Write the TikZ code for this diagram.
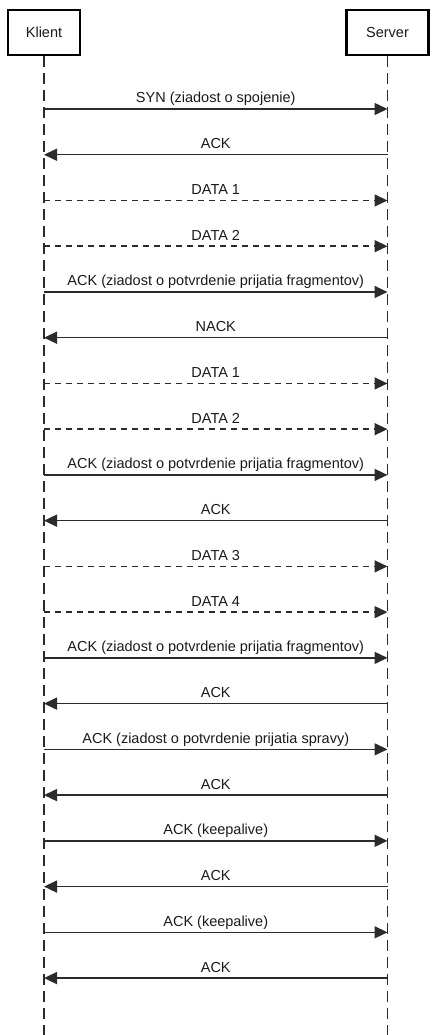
\documentclass[tikz,border=0pt]{standalone}
\usepackage{fontspec}
\setmainfont{Liberation Sans}
\usetikzlibrary{arrows.meta}
\definecolor{ln}{HTML}{2b2b2b}
\definecolor{tx}{HTML}{1a1a1a}
\begin{document}
\begin{tikzpicture}[x=1pt,y=-1pt,
  actor/.style={draw=black, line width=2.7pt, fill=white, minimum height=45pt,
    inner sep=0pt, font=\fontsize{14.5}{17}\selectfont, text=tx},
  life/.style={draw=ln, line width=1.4pt, dash pattern=on 11pt off 6pt},
  msg/.style={draw=ln, line width=1.5pt, -{Triangle[length=13pt,width=12pt]}},
  dmsg/.style={msg, dash pattern=on 6pt off 5pt},
  lbl/.style={font=\fontsize{14.5}{17}\selectfont, anchor=base, inner sep=0pt, text=tx}]
\useasboundingbox (0,0) rectangle (435,1035);
\node[actor, minimum width=72pt] (klient) at (44,32.5) {Klient};
\node[actor, minimum width=82pt] (server) at (387.5,32.5) {Server};
\coordinate (kend) at (44,1035);
\coordinate (send) at (387.5,1035);
\draw[life] (klient.south) -- (kend);
\draw[life] (server.south) -- (send);
\foreach \a/\b/\sty/\lab [count=\i] in {
  k/s/msg/SYN (ziadost o spojenie),
  s/k/msg/ACK,
  k/s/dmsg/DATA 1,
  k/s/dmsg/DATA 2,
  k/s/msg/ACK (ziadost o potvrdenie prijatia fragmentov),
  s/k/msg/NACK,
  k/s/dmsg/DATA 1,
  k/s/dmsg/DATA 2,
  k/s/msg/ACK (ziadost o potvrdenie prijatia fragmentov),
  s/k/msg/ACK,
  k/s/dmsg/DATA 3,
  k/s/dmsg/DATA 4,
  k/s/msg/ACK (ziadost o potvrdenie prijatia fragmentov),
  s/k/msg/ACK,
  k/s/msg/ACK (ziadost o potvrdenie prijatia spravy),
  s/k/msg/ACK,
  k/s/msg/ACK (keepalive),
  s/k/msg/ACK,
  k/s/msg/ACK (keepalive),
  s/k/msg/ACK}
{
  \pgfmathsetmacro{\yy}{109+(\i-1)*45.74}
  \coordinate (k\i) at (44,\yy);
  \coordinate (s\i) at (387.5,\yy);
  \draw[\sty] (\a\i) -- (\b\i);
  \node[lbl] (m\i) at (215.75,\yy-6) {\lab};
}
\end{tikzpicture}
\end{document}
